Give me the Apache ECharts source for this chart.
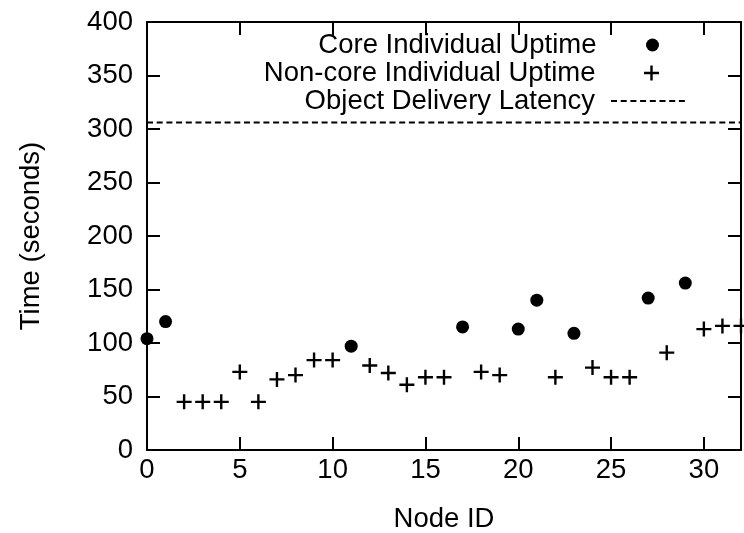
<!DOCTYPE html>
<html>
<head>
<meta charset="utf-8">
<script src="https://cdn.jsdelivr.net/npm/echarts@6/dist/echarts.min.js"></script>
<style>
  html, body { margin: 0; padding: 0; background: #fff; }
  #chart { width: 744px; height: 533px; }
</style>
</head>
<body>
<div id="chart"></div>
<script>
// Core nodes: node id and individual uptime (seconds)
const coreNodes = [0, 1, 11, 17, 20, 21, 23, 27, 29];
const coreUptime = [104, 120, 97, 115, 113, 140, 109, 142, 156];

// Non-core nodes: node id and individual uptime (seconds)
const nonCoreNodes = [2, 3, 4, 5, 6, 7, 8, 9, 10, 12, 13, 14, 15, 16, 18, 19, 22, 24, 25, 26, 28, 30, 31, 32];
const nonCoreUptime = [45, 45, 45, 73, 45, 66, 70, 84, 84, 79, 72, 61, 68, 68, 73, 70, 68, 77, 68, 68, 91, 113, 116, 116];

// Object delivery latency (seconds), constant across nodes
const latencyNodes = [0, 32];
const latencyValue = [306, 306];

const seriesNames = ['Core Individual Uptime', 'Non-core Individual Uptime', 'Object Delivery Latency'];

const FONT = 'Liberation Sans, Arial, Helvetica, sans-serif';
const FS = 27.5;
// filled "+" glyph, 15 units square with 2.4 unit strokes
const plusPath = 'path://M6.3,0h2.4v6.3h6.3v2.4h-6.3v6.3h-2.4v-6.3h-6.3v-2.4h6.3z';

const zip = (xs, ys) => xs.map((x, i) => [x, ys[i]]);

const frameAxis = {
  axisLine: { show: true, onZero: false, lineStyle: { color: '#000', width: 2 } },
  axisTick: { show: true, inside: true, length: 13, lineStyle: { color: '#000', width: 2 } },
  splitLine: { show: false }
};

const legendText = { fontFamily: FONT, fontSize: FS, color: '#000' };

const legendBase = {
  orient: 'horizontal',
  align: 'right',
  itemWidth: 76,
  selectedMode: false,
  padding: 0
};

const chart = echarts.init(document.getElementById('chart'), null, { renderer: 'canvas' });
chart.setOption({
  backgroundColor: '#fff',
  animation: false,
  grid: { left: 147, right: 3, top: 22, bottom: 83, containLabel: false, outerBoundsMode: 'none' },
  legend: [
    Object.assign({}, legendBase, {
      top: 31, right: 85, itemHeight: 13, data: [seriesNames[0]],
      textStyle: Object.assign({}, legendText, { padding: [0, 13, 0, 0] })
    }),
    Object.assign({}, legendBase, {
      top: 59, right: 85, itemHeight: 15, data: [seriesNames[1]],
      textStyle: Object.assign({}, legendText, { padding: [0, 13, 0, 0] })
    }),
    Object.assign({}, legendBase, {
      top: 87, right: 56, itemHeight: 14, data: [seriesNames[2]],
      itemStyle: { opacity: 0 },
      textStyle: Object.assign({}, legendText, { padding: [0, 11, 0, 0] })
    })
  ],
  xAxis: [
    Object.assign({
      type: 'value', min: 0, max: 32, interval: 5, position: 'bottom',
      name: 'Node ID', nameLocation: 'middle', nameGap: 55,
      nameTextStyle: { fontFamily: FONT, fontSize: FS, color: '#000' },
      axisLabel: { fontFamily: FONT, fontSize: FS, color: '#000', margin: 6, showMaxLabel: false }
    }, frameAxis),
    Object.assign({
      type: 'value', min: 0, max: 32, interval: 5, position: 'top',
      axisLabel: { show: false }
    }, frameAxis)
  ],
  yAxis: [
    Object.assign({
      type: 'value', min: 0, max: 400, interval: 50, position: 'left',
      name: 'Time (seconds)', nameLocation: 'middle', nameGap: 102,
      nameTextStyle: { fontFamily: FONT, fontSize: FS, color: '#000' },
      axisLabel: { fontFamily: FONT, fontSize: FS, color: '#000', margin: 14 }
    }, frameAxis),
    Object.assign({
      type: 'value', min: 0, max: 400, interval: 50, position: 'right',
      axisLabel: { show: false }
    }, frameAxis)
  ],
  series: [
    {
      name: seriesNames[0], type: 'scatter', xAxisIndex: 0, yAxisIndex: 0,
      symbol: 'circle', symbolSize: 13,
      itemStyle: { color: '#000', opacity: 1 },
      data: zip(coreNodes, coreUptime)
    },
    {
      name: seriesNames[1], type: 'scatter', xAxisIndex: 0, yAxisIndex: 0,
      symbol: plusPath, symbolSize: 15,
      itemStyle: { color: '#000', opacity: 1 },
      data: zip(nonCoreNodes, nonCoreUptime)
    },
    {
      name: seriesNames[2], type: 'line', xAxisIndex: 0, yAxisIndex: 0,
      symbol: 'none',
      itemStyle: { color: '#000' },
      lineStyle: { color: '#000', width: 2, type: [6, 3.7] },
      data: zip(latencyNodes, latencyValue)
    }
  ]
});
</script>
</body>
</html>
